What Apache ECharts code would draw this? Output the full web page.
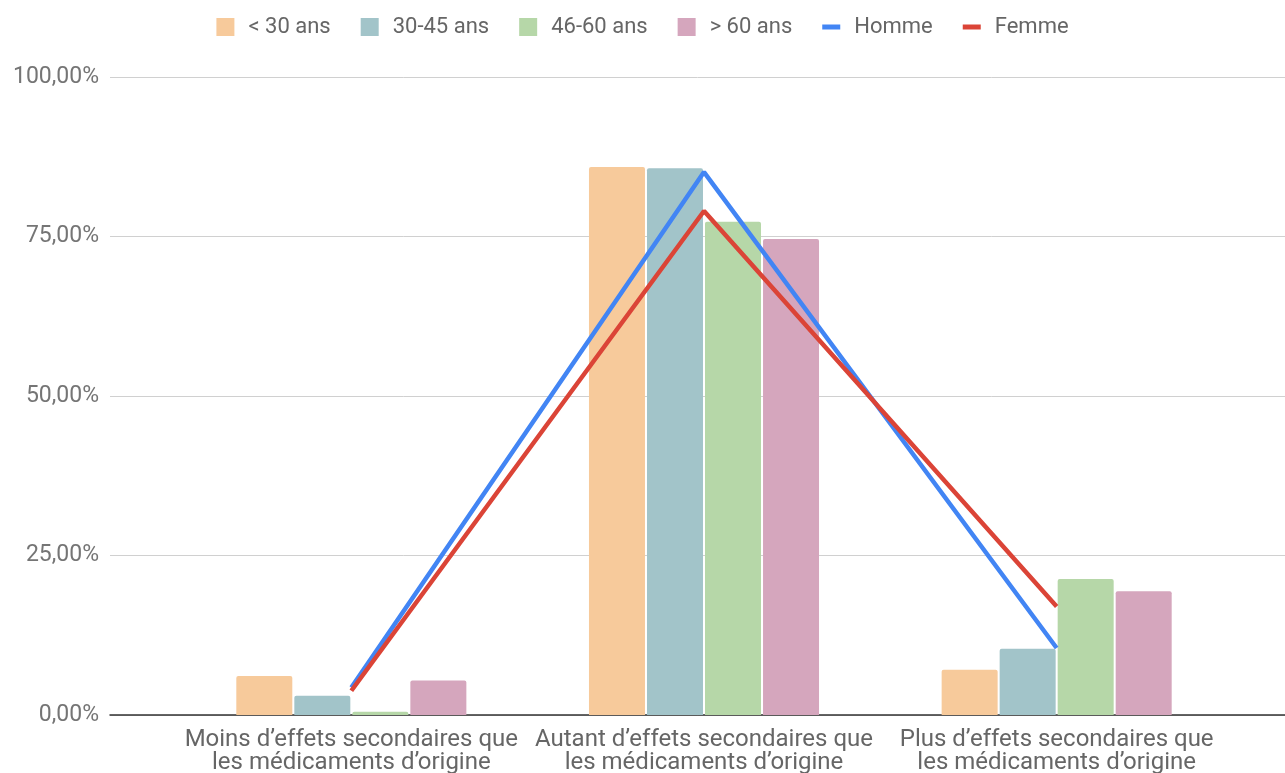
<!DOCTYPE html>
<html>
<head>
<meta charset="utf-8">
<script src="https://cdn.jsdelivr.net/npm/echarts@6/dist/echarts.min.js"></script>
<style>
html,body{margin:0;padding:0;background:#fff;}
#chart{width:1285px;height:773px;}
</style>
</head>
<body>
<div id="chart"></div>
<script>
const categories = [
  "Moins d\u2019effets secondaires que\nles médicaments d\u2019origine",
  "Autant d\u2019effets secondaires que\nles médicaments d\u2019origine",
  "Plus d\u2019effets secondaires que\nles médicaments d\u2019origine"
];
const ageNames = ["< 30 ans", "30-45 ans", "46-60 ans", "> 60 ans"];
const under30 = [6.1, 85.9, 7.1];
const age30_45 = [3.0, 85.7, 10.4];
const age46_60 = [0.5, 77.3, 21.3];
const over60 = [5.4, 74.6, 19.4];
const homme = [4.3, 85.1, 10.5];
const femme = [3.8, 79.0, 17.0];
const yTicks = [0, 25, 50, 75, 100];

const barColors = ["#F7CA9B", "#A2C4C9", "#B6D7A8", "#D5A6BD"];
const ageData = [under30, age30_45, age46_60, over60];
const fmt = v => v.toFixed(2).replace('.', ',') + '%';

const chart = echarts.init(document.getElementById('chart'), null, {renderer: 'canvas'});
const font = 'Roboto, "Noto Sans", sans-serif';

const series = ageData.map((d, i) => ({
  name: ageNames[i],
  type: 'bar',
  xAxisIndex: 1,
  yAxisIndex: 1,
  data: d,
  barWidth: 56,
  barGap: '3.6%',
  itemStyle: {color: barColors[i], borderRadius: [2, 2, 0, 0]},
  z: 2
}));
series.push({
  name: 'Homme', type: 'line', xAxisIndex: 1, yAxisIndex: 1, data: homme,
  symbol: 'none', lineStyle: {color: '#4285F4', width: 4.5}, itemStyle: {color: '#4285F4'}, z: 3
});
series.push({
  name: 'Femme', type: 'line', xAxisIndex: 1, yAxisIndex: 1, data: femme,
  symbol: 'none', lineStyle: {color: '#DB4437', width: 4.5}, itemStyle: {color: '#DB4437'}, z: 4
});

const lineIcon = 'path://M0,0H18V5H0Z';

chart.setOption({
  animation: false,
  backgroundColor: '#fff',
  textStyle: {fontFamily: font},
  legend: {
    top: 11,
    left: 'center',
    itemWidth: 18,
    itemHeight: 18,
    itemGap: 30,
    textStyle: {fontSize: 22, color: '#666', fontFamily: font, padding: [0, 0, 0, 9]},
    data: ageNames.map(n => ({name: n, icon: 'rect'})).concat([
      {name: 'Homme', icon: lineIcon},
      {name: 'Femme', icon: lineIcon}
    ])
  },
  grid: [
    {left: 110, right: 0, top: 77, bottom: 58, containLabel: false, outerBoundsMode: 'none'},
    {left: 175, right: 52, top: 77, bottom: 58, containLabel: false, outerBoundsMode: 'none'}
  ],
  xAxis: [
    {gridIndex: 0, type: 'value', min: 0, max: 1, show: true,
     axisLine: {show: true, onZero: false, lineStyle: {color: '#333', width: 1.5}},
     axisTick: {show: false}, axisLabel: {show: false}, splitLine: {show: false}},
    {gridIndex: 1, type: 'category', data: categories,
     axisLine: {show: false}, axisTick: {show: false},
     axisLabel: {interval: 0, fontSize: 24, color: '#666', margin: 13, lineHeight: 23, fontFamily: font}}
  ],
  yAxis: [
    {gridIndex: 0, type: 'value', min: 0, max: 100, interval: 25,
     axisLine: {show: false}, axisTick: {show: false},
     axisLabel: {fontSize: 23, color: '#757575', margin: 11, formatter: v => fmt(v), fontFamily: font},
     splitLine: {lineStyle: {color: '#d0d0d0', width: 1}}},
    {gridIndex: 1, type: 'value', min: 0, max: 100, interval: 25, show: false}
  ],
  series: series
});
</script>
</body>
</html>
